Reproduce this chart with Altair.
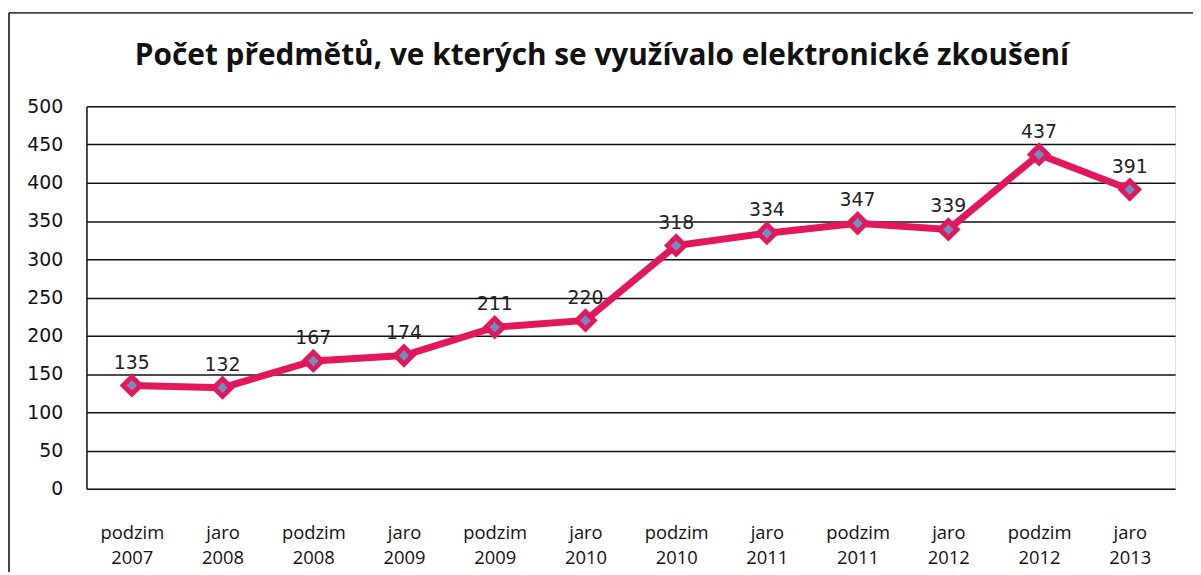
import altair as alt
import pandas as pd

semesters = ["podzim 2007", "jaro 2008", "podzim 2008", "jaro 2009", "podzim 2009", "jaro 2010",
             "podzim 2010", "jaro 2011", "podzim 2011", "jaro 2012", "podzim 2012", "jaro 2013"]
counts = [135, 132, 167, 174, 211, 220, 318, 334, 347, 339, 437, 391]
y_ticks = [0, 50, 100, 150, 200, 250, 300, 350, 400, 450, 500]
title_text = "Počet předmětů, ve kterých se využívalo elektronické zkoušení"

df = pd.DataFrame({"semestr": semesters, "pocet": counts})

LINE = "#E2175C"
BLUE = "#6E8EBF"

x = alt.X("semestr:N", sort=semesters, title=None,
          scale=alt.Scale(paddingInner=0, paddingOuter=0.5),
          axis=alt.Axis(labelAngle=0, labelExpr="split(datum.label, ' ')",
                        labelFont="Open Sans", labelFontSize=18.5, labelColor="#111",
                        labelLineHeight=25, labelPadding=35, domain=False, ticks=False,
                        grid=False))
y = alt.Y("pocet:Q", title=None,
          scale=alt.Scale(domain=[0, 500], nice=False, zero=True),
          axis=alt.Axis(values=y_ticks, labelFont="DejaVu Sans", labelFontSize=19,
                        labelColor="#111", labelPadding=24, ticks=False,
                        domain=True, domainColor="#111", domainWidth=1.5,
                        grid=True, gridColor="#111", gridWidth=1.5))

base = alt.Chart(df)

line = base.mark_line(color=LINE, strokeWidth=7).encode(x=x, y=y)
outer = base.mark_point(shape="diamond", filled=True, color=LINE, size=600, opacity=1).encode(x=x, y=y)
inner = base.mark_point(shape="diamond", filled=True, color=BLUE, size=110, opacity=1).encode(x=x, y=y)
labels = base.mark_text(dy=-23, font="DejaVu Sans", fontSize=19, color="#222", baseline="middle").encode(
    x=x, y=y, text="pocet:Q")

single = pd.DataFrame({"t": [title_text]})
title = alt.Chart(single).mark_text(font="Open Sans", fontSize=30, fontWeight="bold", color="#111",
                                    baseline="middle", align="center", clip=False).encode(
    x=alt.value(519), y=alt.value(-51), text="t:N")
frame_top = alt.Chart(single).mark_rule(color="#444", strokeWidth=2, clip=False).encode(
    x=alt.value(-78), x2=alt.value(1120), y=alt.value(-94))
frame_left = alt.Chart(single).mark_rule(color="#444", strokeWidth=2, clip=False).encode(
    x=alt.value(-78), y=alt.value(-94), y2=alt.value(480))

chart = alt.layer(frame_top, frame_left, title, line, outer, inner, labels).properties(
    width=1096, height=385,
    autosize=alt.AutoSizeParams(type="none"),
    padding={"left": 79, "top": 97, "right": 18, "bottom": 82},
).configure_view(stroke=None).configure(background="white")

chart.save("out.html", embed_options={"renderer": "svg", "actions": False})
